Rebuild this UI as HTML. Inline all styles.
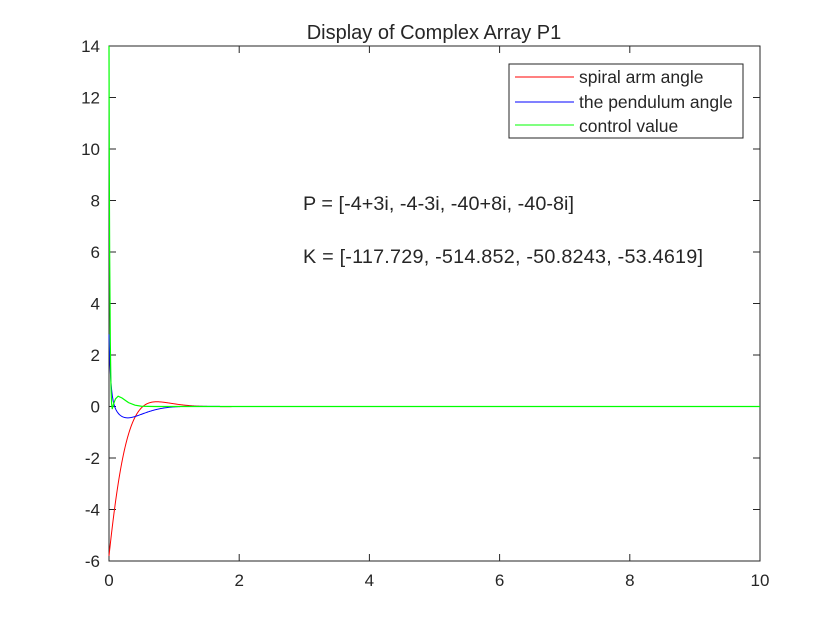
<!DOCTYPE html>
<html><head><meta charset="utf-8"><style>body{margin:0;background:#fff}svg{display:block}text{font-family:"Liberation Sans",sans-serif;fill:#262626}</style></head>
<body>
<svg id="s" width="840" height="630" xmlns="http://www.w3.org/2000/svg">
<rect width="840" height="630" fill="#fff"/>
<rect x="109" y="46" width="651" height="515" fill="#fff" stroke="#262626" stroke-width="1"/>
<g id="ticks" stroke="#262626" stroke-width="1"></g>
<g id="labels" font-size="17"></g>
<text x="434" y="39" font-size="20" text-anchor="middle" fill="#000">Display of Complex Array P1</text>
<text x="303" y="210" font-size="19.8" textLength="271" fill="#000">P = [-4+3i, -4-3i, -40+8i, -40-8i]</text>
<text x="303" y="263" font-size="19.8" textLength="400" fill="#000">K = [-117.729, -514.852, -50.8243, -53.4619]</text>
<path id="red" fill="none" stroke="#ff0000" stroke-width="1"/>
<path id="blue" fill="none" stroke="#0000ff" stroke-width="1"/>
<path id="green" fill="none" stroke="#00ff00" stroke-width="1.2"/>
<rect x="509" y="64" width="234" height="74" fill="#fff" stroke="#262626" stroke-width="1"/>
<line x1="515" y1="77" x2="574" y2="77" stroke="#ff0000"/>
<line x1="515" y1="102" x2="574" y2="102" stroke="#0000ff"/>
<line x1="515" y1="125" x2="574" y2="125" stroke="#00ff00"/>
<text x="579" y="83" font-size="17.5" fill="#000">spiral arm angle</text>
<text x="579" y="108" font-size="17.5" fill="#000">the pendulum angle</text>
<text x="579" y="132" font-size="17.5" fill="#000">control value</text>
</svg>
<script>
var X=t=>109+t*65.1, Y=v=>406.5-v*25.75;
var tk=document.getElementById('ticks'),lb=document.getElementById('labels'),h='',l='';
for(var i=0;i<=5;i++){var x=109+i*130.2;h+='<line x1="'+x+'" y1="561" x2="'+x+'" y2="554"/><line x1="'+x+'" y1="46" x2="'+x+'" y2="53"/>';l+='<text x="'+x+'" y="586" text-anchor="middle">'+(i*2)+'</text>';}
for(var v=-6;v<=14;v+=2){var y=Y(v);h+='<line x1="109" y1="'+y+'" x2="116" y2="'+y+'"/><line x1="760" y1="'+y+'" x2="753" y2="'+y+'"/>';l+='<text x="100" y="'+(y+6)+'" text-anchor="end">'+v+'</text>';}
tk.innerHTML=h;lb.innerHTML=l;
function mk(f){var d='';for(var t=0;t<=10;t+=(t<2?0.005:0.05)){d+=(d?'L':'M')+X(t).toFixed(2)+','+Y(f(t)).toFixed(2);}return d;}
document.getElementById('red').setAttribute('d',mk(t=>Math.exp(-4*t)*(-5.8*Math.cos(3*t)+0.06*Math.sin(3*t))));
document.getElementById('blue').setAttribute('d',mk(t=>Math.exp(-4*t)*(0.5*Math.cos(3*t)-2.26*Math.sin(3*t))+2.3*Math.exp(-40*t)));
var g=[[0,14],[0.005,9],[0.01,6],[0.02,2.5],[0.03,0.8],[0.04,0.1],[0.05,-0.1],[0.07,0.1],[0.1,0.3],[0.14,0.4],[0.2,0.33],[0.3,0.15],[0.4,0.05],[0.5,0.01],[0.7,0],[10,0]];
document.getElementById('green').setAttribute('d',g.map((p,i)=>(i?'L':'M')+X(p[0])+','+Y(p[1])).join(''));
</script>
</body></html>
